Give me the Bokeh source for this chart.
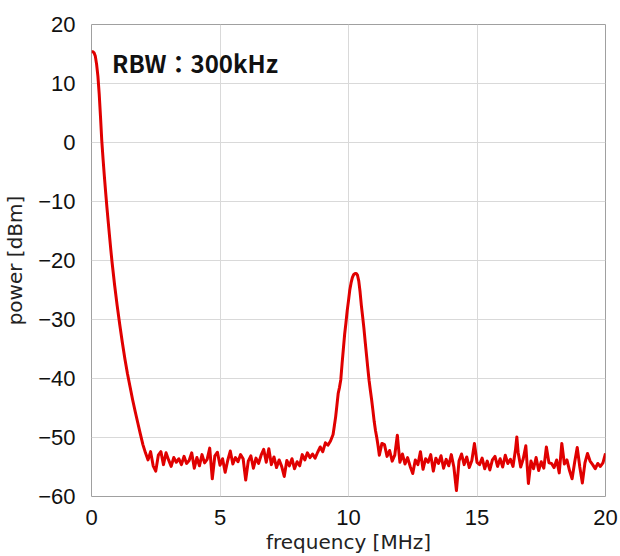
from bokeh.plotting import figure
from bokeh.models import Label, CustomJSTickFormatter, FixedTicker, Range1d
from bokeh.embed import file_html
from bokeh.resources import INLINE

# --- data (frequency in MHz, power in dBm) ---
rolloff_f = [0.00, 0.05, 0.10, 0.15, 0.20, 0.25, 0.30, 0.35, 0.40, 0.45, 0.50, 0.55,
             0.60, 0.65, 0.70, 0.75, 0.80, 0.90, 1.00, 1.10, 1.20, 1.30, 1.40, 1.50,
             1.60, 1.70, 1.80, 1.90, 2.00, 2.10, 2.20]
rolloff_p = [15.4, 15.4, 15.2, 14.6, 13.2, 11.2, 8.2, 4.4, 0.3, -2.8, -5.7, -8.4,
             -11.0, -13.4, -15.8, -18.1, -20.3, -24.2, -27.7, -30.9, -33.9, -36.7, -39.2, -41.4,
             -43.6, -45.6, -47.5, -49.4, -51.2, -52.6, -53.8]

floor_low_f = [2.3, 2.4, 2.5, 2.6, 2.7, 2.8, 2.9, 3.0, 3.1, 3.2, 3.3, 3.4, 3.5, 3.6,
               3.7, 3.8, 3.9, 4.0, 4.1, 4.2, 4.3, 4.4, 4.5, 4.6, 4.7, 4.8, 4.9, 5.0,
               5.1, 5.2, 5.3, 5.4, 5.5, 5.6, 5.7, 5.8, 5.9, 6.0, 6.1, 6.2, 6.3, 6.4,
               6.5, 6.6, 6.7, 6.8, 6.9, 7.0, 7.1, 7.2, 7.3, 7.4, 7.5, 7.6, 7.7, 7.8,
               7.9, 8.0, 8.1, 8.2, 8.3, 8.4, 8.5, 8.6, 8.7, 8.8, 8.9, 9.0, 9.1, 9.2, 9.3]
floor_low_p = [-52.4, -54.8, -55.7, -53.0, -52.4, -54.6, -52.6, -53.8, -54.9, -53.4, -54.2, -53.6, -54.6, -53.2,
               -54.4, -53.9, -52.6, -55.2, -53.4, -54.8, -52.9, -54.3, -53.7, -51.8, -57.0, -53.1, -52.5, -54.7,
               -53.6, -55.9, -53.9, -52.3, -54.5, -53.4, -54.1, -52.9, -53.6, -57.2, -54.0, -53.1, -55.2, -53.5,
               -54.4, -53.0, -52.0, -54.2, -51.9, -54.6, -53.3, -55.1, -53.8, -54.9, -56.6, -53.9, -54.8, -53.6,
               -55.3, -54.1, -54.8, -52.9, -53.8, -52.6, -53.4, -52.8, -53.5, -52.5, -51.6, -52.4, -50.9, -51.3, -50.6]

peak_f = [9.40, 9.45, 9.50, 9.55, 9.60, 9.65, 9.70, 9.75, 9.80, 9.85, 9.90, 9.95,
          10.00, 10.05, 10.10, 10.15, 10.20, 10.25, 10.30, 10.35, 10.40, 10.45, 10.50, 10.55,
          10.60, 10.65, 10.70, 10.75, 10.80, 10.85, 10.90, 10.95, 11.00, 11.05, 11.10, 11.15, 11.20]
peak_p = [-49.5, -48.0, -46.5, -44.5, -42.5, -41.5, -40.2, -37.5, -35.0, -32.5, -30.6, -28.5,
          -26.8, -25.0, -23.8, -22.9, -22.4, -22.2, -22.2, -22.5, -23.5, -25.3, -27.6, -29.5,
          -31.5, -33.8, -36.0, -38.2, -40.3, -42.0, -43.6, -45.4, -47.3, -48.8, -50.0, -51.4, -53.0]

floor_high_f = [11.3, 11.4, 11.5, 11.6, 11.7, 11.8, 11.9, 12.0, 12.1, 12.2, 12.3, 12.4, 12.5, 12.6,
                12.7, 12.8, 12.9, 13.0, 13.1, 13.2, 13.3, 13.4, 13.5, 13.6, 13.7, 13.8, 13.9, 14.0,
                14.1, 14.2, 14.3, 14.4, 14.5, 14.6, 14.7, 14.8, 14.9, 15.0, 15.1, 15.2, 15.3, 15.4,
                15.5, 15.6, 15.7, 15.8, 15.9, 16.0, 16.1, 16.2, 16.3, 16.4, 16.5, 16.55, 16.6, 16.7,
                16.8, 16.9, 17.0, 17.1, 17.2, 17.3, 17.4, 17.5, 17.6, 17.7, 17.8, 17.9, 18.0, 18.1,
                18.2, 18.3, 18.4, 18.5, 18.6, 18.7, 18.8, 18.9, 19.0, 19.1, 19.2, 19.3, 19.4, 19.5,
                19.6, 19.7, 19.8, 19.9, 20.0]
floor_high_p = [-51.0, -51.2, -53.2, -52.2, -54.0, -53.0, -49.6, -54.2, -52.8, -54.5, -53.4, -54.9, -56.1, -53.8,
                -54.6, -52.4, -55.4, -53.6, -54.2, -52.9, -55.7, -53.5, -54.4, -53.1, -55.2, -53.7, -54.8, -52.9,
                -55.0, -59.0, -54.0, -52.8, -54.6, -53.3, -55.1, -53.9, -51.0, -54.2, -54.6, -53.5, -55.3, -54.0,
                -55.5, -53.8, -53.2, -54.9, -53.6, -55.0, -53.0, -54.4, -53.7, -54.9, -52.0, -49.9, -52.5, -55.0,
                -53.6, -51.4, -57.8, -54.0, -55.3, -53.4, -55.6, -54.1, -55.2, -51.6, -54.3, -54.4, -55.1, -53.8,
                -56.0, -51.0, -54.5, -53.8, -55.6, -57.0, -54.2, -51.7, -55.0, -57.7, -54.3, -52.7, -54.0, -54.6,
                -55.3, -54.4, -54.9, -54.3, -52.7]

x_ticks = [0, 5, 10, 15, 20]
y_ticks = [-60, -50, -40, -30, -20, -10, 0, 10, 20]
annotation = "RBW\uff1a300kHz"
x_label = "frequency [MHz]"
y_label = "power [dBm]"

freq = rolloff_f + floor_low_f + peak_f + floor_high_f
power = rolloff_p + floor_low_p + peak_p + floor_high_p

p = figure(width=620, height=556, output_backend="svg", toolbar_location=None,
           x_range=Range1d(0, 20), y_range=Range1d(-60, 20),
           min_border_left=91, min_border_right=15, min_border_top=24, min_border_bottom=58)
p.background_fill_color = "white"
p.border_fill_color = "white"
p.outline_line_color = "#a0a0a0"
p.outline_line_width = 1

p.xaxis.ticker = FixedTicker(ticks=x_ticks)
p.yaxis.ticker = FixedTicker(ticks=y_ticks)
minus_fmt = CustomJSTickFormatter(code="return tick < 0 ? '\u2212' + Math.abs(tick) : String(tick);")
p.yaxis.formatter = minus_fmt
p.xaxis.formatter = minus_fmt

for ax in (p.xaxis, p.yaxis):
    ax.axis_line_color = None
    ax.major_tick_line_color = None
    ax.minor_tick_line_color = None
    ax.major_label_text_font = "Liberation Sans"
    ax.major_label_text_font_size = "22px"
    ax.major_label_text_color = "#111111"
    ax.axis_label_text_font = "DejaVu Sans"
    ax.axis_label_text_font_size = "20px"
    ax.axis_label_text_font_style = "normal"
    ax.axis_label_text_color = "#222222"

p.xaxis.axis_label = x_label
p.yaxis.axis_label = y_label
p.yaxis.major_label_standoff = 10
p.xaxis.major_label_standoff = 7
p.yaxis.axis_label_standoff = 8
p.xaxis.axis_label_standoff = 2

p.xgrid.grid_line_color = "#d9d9d9"
p.ygrid.grid_line_color = "#d9d9d9"
p.xgrid.grid_line_width = 1
p.ygrid.grid_line_width = 1

p.line(freq, power, line_color="#e00000", line_width=3, line_join="round")

p.add_layout(Label(x=0.8, y=13.6, text=annotation, text_font="Noto Sans CJK JP",
                   text_font_style="bold", text_font_size="24px", text_color="#111111",
                   text_baseline="alphabetic"))

open("out.html", "w").write(file_html(p, INLINE))
